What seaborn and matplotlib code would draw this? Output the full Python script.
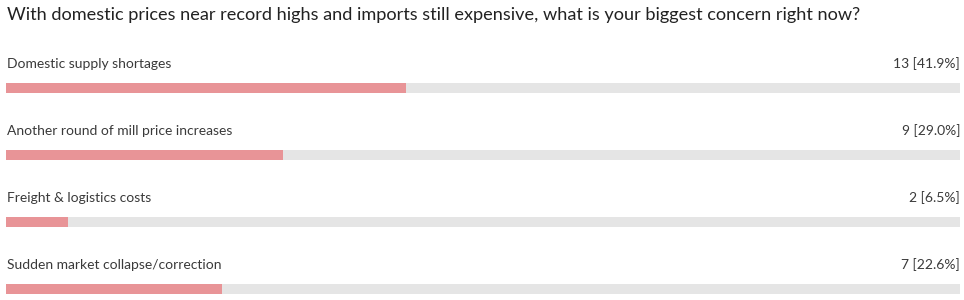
import matplotlib
matplotlib.use("Agg")
import matplotlib.pyplot as plt
import seaborn as sns
import pandas as pd

title = "With domestic prices near record highs and imports still expensive, what is your biggest concern right now?"
categories = ["Domestic supply shortages", "Another round of mill price increases",
              "Freight & logistics costs", "Sudden market collapse/correction"]
counts = [13, 9, 2, 7]
percents = [41.9, 29.0, 6.5, 22.6]
track = [100, 100, 100, 100]

sns.set_theme(style="white")
plt.rcParams['font.family'] = ['Lato', 'DejaVu Sans']

W, H = 964, 300
fig = plt.figure(figsize=(W / 100, H / 100), dpi=100)
left_px, right_px = 6, 960
ax = fig.add_axes([left_px / W, 0, (right_px - left_px) / W, 1])

df = pd.DataFrame({"cat": categories, "pct": percents, "track": track})
bw = 10 / 67
sns.barplot(data=df, x="track", y="cat", orient="h", color="#E5E5E5", width=bw,
            saturation=1, ax=ax, linewidth=0)
sns.barplot(data=df, x="pct", y="cat", orient="h", color="#E89497", width=bw,
            saturation=1, ax=ax, linewidth=0)

ax.set_xlim(0, 100)
top = -88 / 67
bottom = (H - 88) / 67
ax.set_ylim(bottom, top)
ax.axis("off")

for i, (c, n, p) in enumerate(zip(categories, counts, percents)):
    y = i - 24 / 67
    ax.text(0.1, y, c, ha="left", va="center", fontsize=10.0, color="#3a3a3a")
    ax.text(100, y, f"{n} [{p:.1f}%]", ha="right", va="center", fontsize=10.0, color="#3a3a3a")

fig.text(7 / W, 1 - 15 / H, title, ha="left", va="center", fontsize=13.1, color="#222222")

fig.savefig("out.png", dpi=100, facecolor="white")
